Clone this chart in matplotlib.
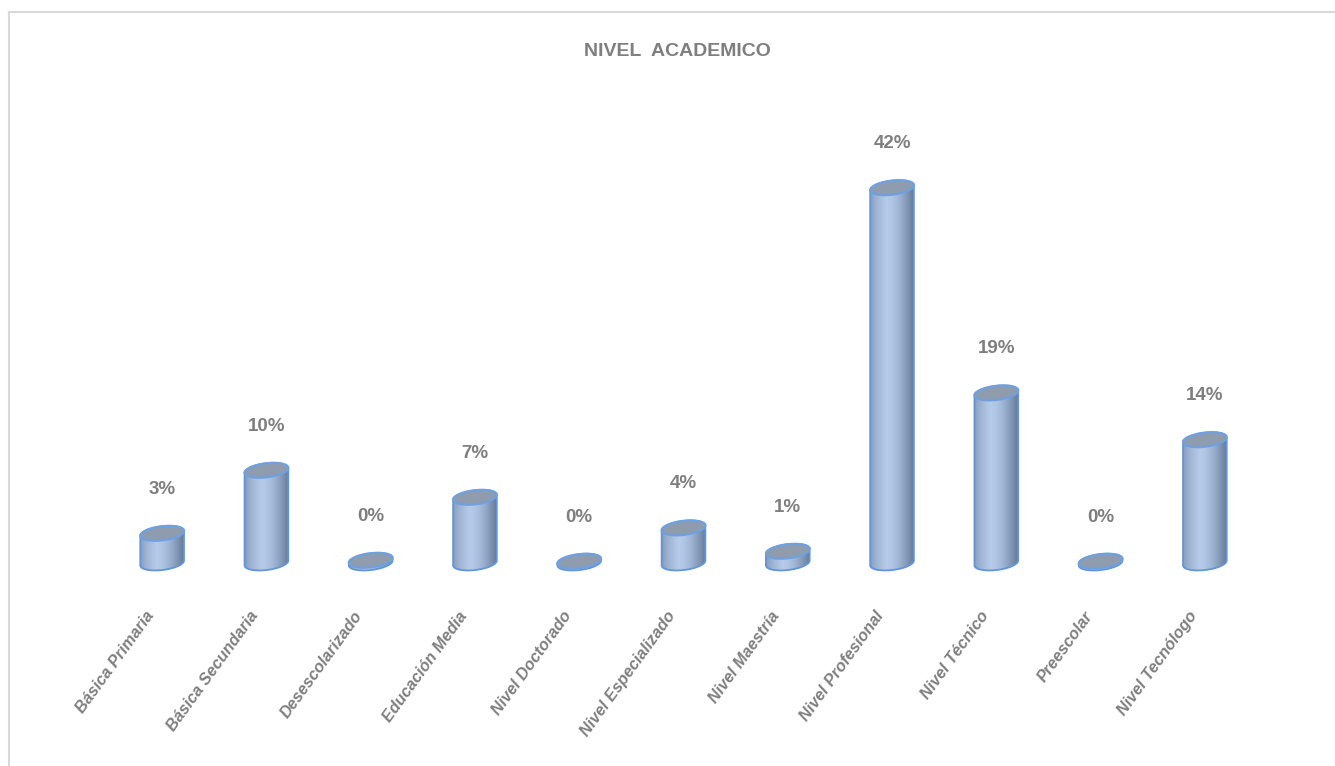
import numpy as np
import matplotlib
matplotlib.use("Agg")
import matplotlib.pyplot as plt
from matplotlib.patches import Polygon
from matplotlib.transforms import IdentityTransform, offset_copy
from matplotlib.lines import Line2D

categories = ["Básica Primaria", "Básica Secundaria", "Desescolarizado", "Educación Media",
              "Nivel Doctorado", "Nivel Especializado", "Nivel Maestría", "Nivel Profesional",
              "Nivel Técnico", "Preescolar", "Nivel Tecnólogo"]
values = [3.3, 10.3, 0.3, 7.3, 0.2, 3.9, 1.3, 41.7, 18.9, 0.2, 13.7]
labels = ["3%", "10%", "0%", "7%", "0%", "4%", "1%", "42%", "19%", "0%", "14%"]
title = "NIVEL  ACADEMICO"

GRAY = "#7f7f7f"
NARROW = ["Liberation Sans Narrow", "Liberation Sans", "DejaVu Sans"]

fig = plt.figure(figsize=(13.35, 7.66), dpi=100)
fig.patch.set_facecolor("white")
W, H = 1335, 766
ax = fig.add_axes([110 / W, (766 - 581) / H, 1147 / W, 432 / H])
ax.set_xlim(-0.5, len(categories) - 0.5)
ax.set_ylim(-2, 46)
ax.set_autoscale_on(False)
ax.axis("off")

# chart border
fig.add_artist(Line2D([9 / W, 1.0], [1 - 12 / H, 1 - 12 / H], transform=fig.transFigure,
                      color="#d9d9d9", lw=1.5))
fig.add_artist(Line2D([9 / W, 9 / W], [0, 1 - 12 / H], transform=fig.transFigure,
                      color="#d9d9d9", lw=1.5))

fig.text(677 / W, 1 - 51 / H, title, ha="center", va="center", fontsize=14,
         fontweight="bold", color=GRAY, family=NARROW)

# horizontal gradient for body
gx = np.linspace(0, 1, 256)
light = np.array([182, 202, 234]) / 255
dark_l = np.array([128, 148, 180]) / 255
dark_r = np.array([100, 120, 152]) / 255
peak = 0.38
cols = np.empty((256, 3))
for k, t in enumerate(gx):
    if t < peak:
        s = (t / peak) ** 0.6
        cols[k] = dark_l + (light - dark_l) * s
    else:
        s = ((t - peak) / (1 - peak)) ** 1.6
        cols[k] = light + (dark_r - light) * s
grad = np.tile(cols[None, :, :], (2, 1, 1))

half_w = 22.0   # px
half_h = 7.0    # px
theta = np.deg2rad(7)


def ell_pts(cx, cy, t):
    x = half_w * np.cos(t)
    y = half_h * np.sin(t)
    return np.column_stack([cx + x * np.cos(theta) - y * np.sin(theta),
                            cy + x * np.sin(theta) + y * np.cos(theta)])


t_r = np.arctan2(-half_h * np.sin(theta), half_w * np.cos(theta))
t_l = t_r + np.pi

fig.canvas.draw()
ident = IdentityTransform()
for i, v in enumerate(values):
    cx, y0 = ax.transData.transform((i, 0))
    _, y1 = ax.transData.transform((i, v))
    lower = ell_pts(cx, y0, np.linspace(t_l, t_r + 2 * np.pi, 60))
    upper = ell_pts(cx, y1, np.linspace(t_r, t_l, 60))
    body = np.vstack([lower, upper])
    if y1 - y0 > 1:
        poly = Polygon(body, closed=True, transform=ident, facecolor="none",
                       edgecolor="#6396d8", lw=1.3, zorder=3)
        ax.add_patch(poly)
        xs = body[:, 0]
        ys = body[:, 1]
        im = ax.imshow(grad, extent=(xs.min(), xs.max(), ys.min(), ys.max()),
                       transform=ident, aspect="auto", interpolation="bilinear", zorder=2)
        im.set_clip_path(Polygon(body, closed=True, transform=ident))
    else:
        rim = Polygon(ell_pts(cx, y0 - 1.5, np.linspace(0, 2 * np.pi, 80)), closed=True,
                      transform=ident, facecolor="#6f9ad6", edgecolor="#5b8fd6", lw=1.2, zorder=3)
        ax.add_patch(rim)
    top = Polygon(ell_pts(cx, y1, np.linspace(0, 2 * np.pi, 80)), closed=True, transform=ident,
                  facecolor="#8f9cae", edgecolor="#6fa0e0", lw=1.6, zorder=4)
    ax.add_patch(top)

    # value label
    lt = offset_copy(ax.transData, fig=fig, x=0, y=44, units="dots")
    ax.text(i, v, labels[i], transform=lt, ha="center", va="center", fontsize=13.5,
            fontweight="bold", color=GRAY, family=NARROW, zorder=5)

    # category label
    ct = offset_copy(ax.transData, fig=fig, x=-11, y=-50, units="dots")
    ax.text(i, 0, categories[i], transform=ct, ha="right", va="center", rotation=54,
            rotation_mode="anchor", fontsize=11.7, fontweight="bold", fontstyle="italic",
            color=GRAY, family=["Liberation Sans", "DejaVu Sans"], zorder=5)

fig.savefig("out.png", dpi=100, facecolor="white")
